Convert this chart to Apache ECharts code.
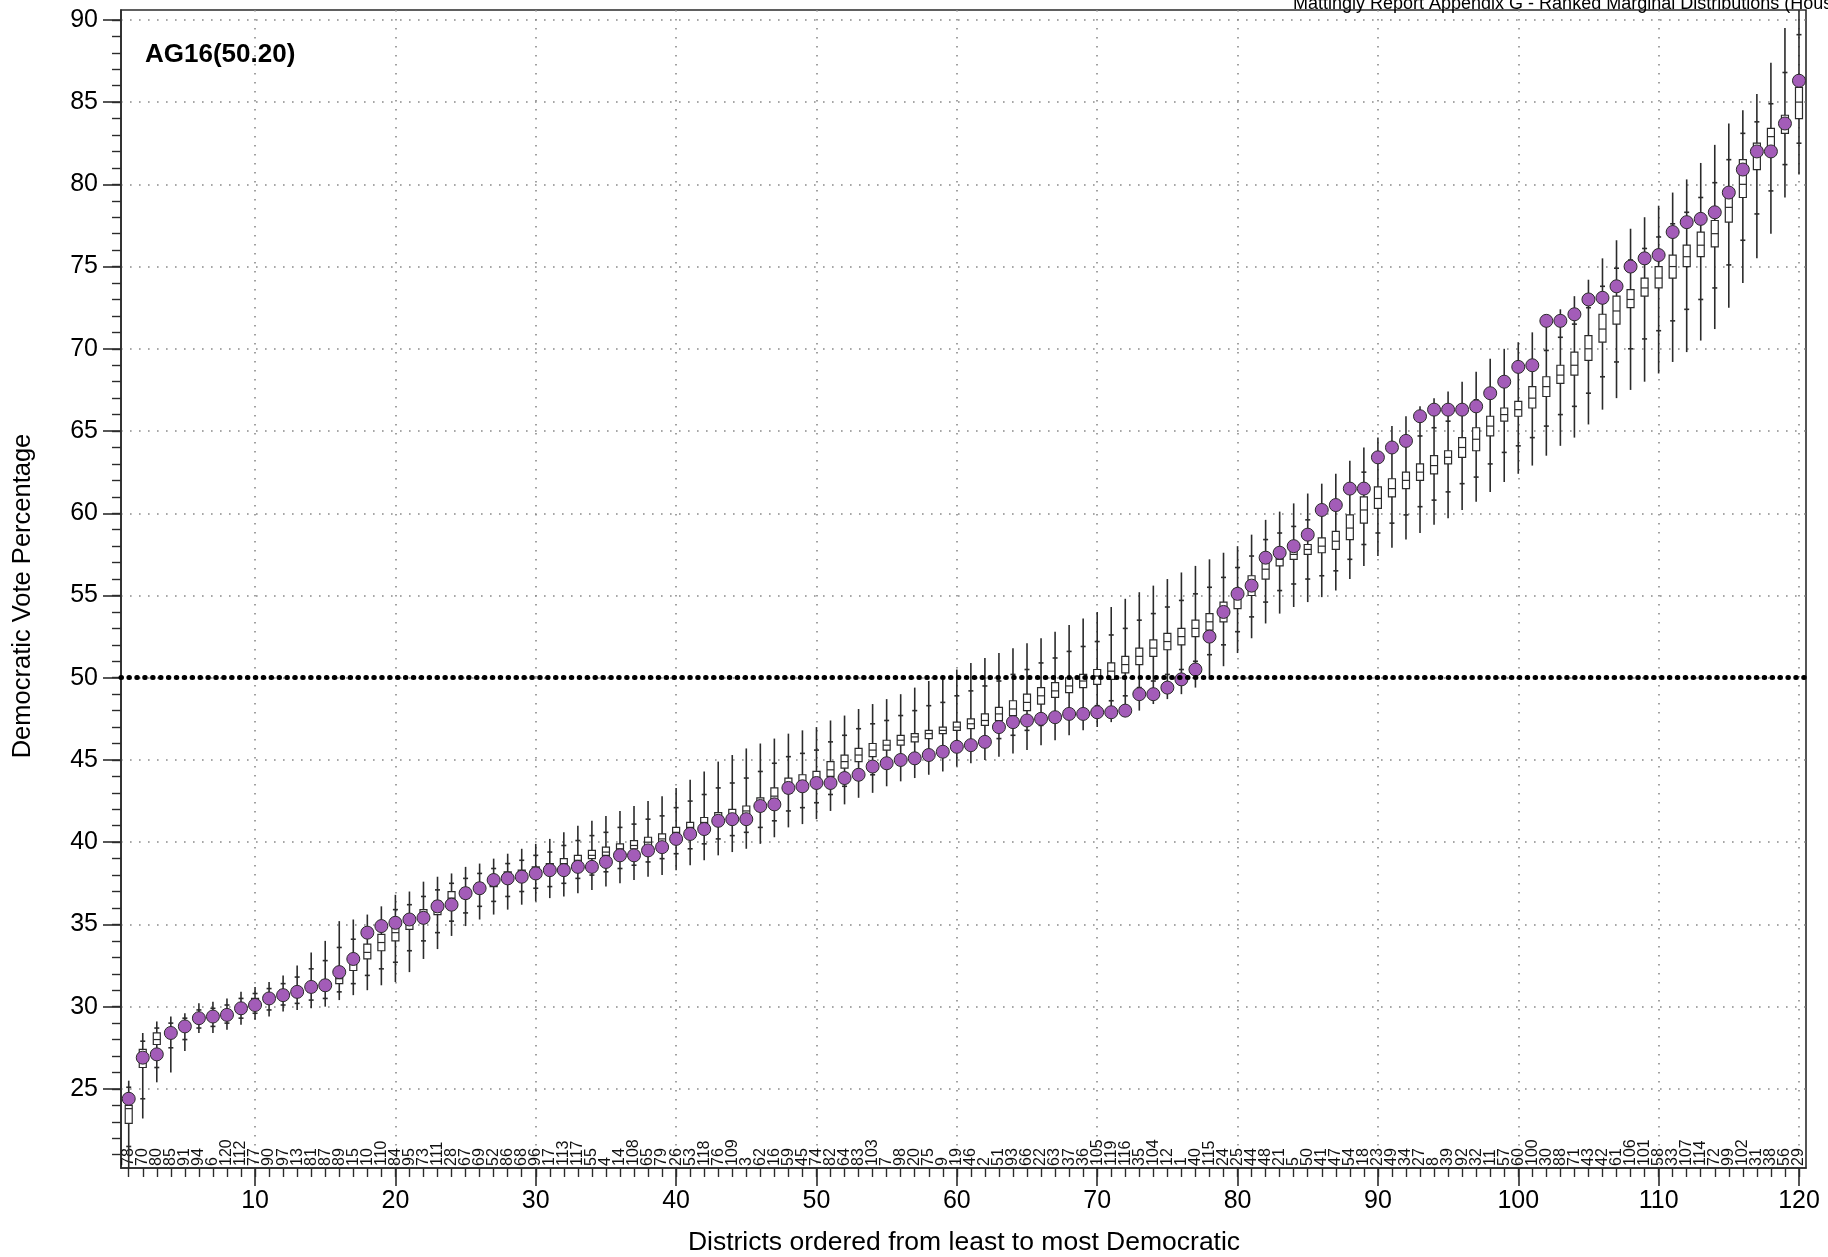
<!DOCTYPE html>
<html lang="en">
<head>
  <meta charset="UTF-8">
  <title>AG16 ranked marginal distributions</title>
  <style>
    html, body { margin: 0; padding: 0; background: #fff; }
    #main { width: 1828px; height: 1257px; }
  </style>
</head>
<body>
<div id="main"></div>
<script type="text/javascript" src="https://cdn.jsdelivr.net/npm/echarts@6.0.0/dist/echarts.min.js"></script>
<script>
// district numbers, ordered from least to most Democratic
var districts = ['78','70','80','85','91','94','6','120','112','77',
  '90','97','13','81','87','89','15','10','110','84',
  '95','73','111','28','67','69','52','86','68','96',
  '17','113','117','55','4','14','108','65','79','26',
  '53','118','76','109','3','62','16','59','45','74',
  '82','64','83','103','7','98','20','75','9','19',
  '46','2','51','93','66','22','63','37','36','105',
  '119','116','35','104','12','1','40','115','24','25',
  '44','48','21','5','50','41','47','54','18','23',
  '49','34','27','8','39','92','32','11','57','60',
  '100','30','88','71','43','42','61','106','101','58',
  '33','107','114','72','99','102','31','38','56','29'];

// enacted plan vote share (purple dots)
var actual = [24.4,26.9,27.1,28.4,28.8,29.3,29.4,29.5,29.9,30.1,
  30.5,30.7,30.9,31.2,31.3,32.1,32.9,34.5,34.9,35.1,
  35.3,35.4,36.1,36.2,36.9,37.2,37.7,37.8,37.9,38.1,
  38.3,38.3,38.5,38.5,38.8,39.2,39.2,39.5,39.7,40.2,
  40.5,40.8,41.3,41.4,41.4,42.2,42.3,43.3,43.4,43.6,
  43.6,43.9,44.1,44.6,44.8,45.0,45.1,45.3,45.5,45.8,
  45.9,46.1,47.0,47.3,47.4,47.5,47.6,47.8,47.8,47.9,
  47.9,48.0,49.0,49.0,49.4,49.9,50.5,52.5,54.0,55.1,
  55.6,57.3,57.6,58.0,58.7,60.2,60.5,61.5,61.5,63.4,
  64.0,64.4,65.9,66.3,66.3,66.3,66.5,67.3,68.0,68.9,
  69.0,71.7,71.7,72.1,73.0,73.1,73.8,75.0,75.5,75.7,
  77.1,77.7,77.9,78.3,79.5,80.9,82.0,82.0,83.7,86.3];

// ensemble distribution per rank
var whiskerLo = [19.5,23.2,25.4,26.0,27.3,28.4,28.4,28.6,28.9,29.2,
  29.4,29.7,29.8,29.9,30.0,30.4,30.7,31.0,31.3,31.5,
  32.1,32.9,33.5,34.3,34.9,35.3,35.6,35.9,36.2,36.4,
  36.6,36.7,36.9,37.1,37.3,37.5,37.7,37.9,38.0,38.3,
  38.6,38.9,39.2,39.4,39.6,39.9,40.3,40.9,41.1,41.4,
  41.9,42.3,42.7,43.0,43.4,43.7,43.9,44.1,44.3,44.6,
  44.8,45.0,45.2,45.4,45.6,45.9,46.2,46.5,46.8,47.0,
  47.3,47.6,48.0,48.4,48.7,49.0,49.4,49.9,50.7,51.5,
  52.4,53.3,53.9,54.3,54.6,54.9,55.3,56.0,56.8,57.4,
  57.9,58.4,58.8,59.3,59.7,60.2,60.7,61.3,61.9,62.4,
  62.9,63.5,64.1,64.6,65.4,66.3,67.0,67.5,68.0,68.5,
  69.2,69.8,70.5,71.2,72.5,74.0,75.5,77.0,79.2,80.6];
var markLo = [21.5,24.4,26.3,27.5,28.0,28.7,28.8,29.0,29.3,29.6,
  29.8,30.1,30.2,30.4,30.5,30.9,31.4,31.9,32.3,32.7,
  33.4,34.0,34.5,35.2,35.7,36.1,36.4,36.7,37.0,37.2,
  37.3,37.5,37.8,38.0,38.2,38.4,38.6,38.8,39.0,39.3,
  39.6,39.9,40.2,40.4,40.6,40.9,41.3,41.9,42.1,42.4,
  42.9,43.4,43.8,44.1,44.5,44.8,45.0,45.2,45.4,45.7,
  45.8,46.0,46.3,46.5,46.8,47.1,47.5,47.8,48.1,48.3,
  48.6,48.9,49.4,49.8,50.2,50.5,51.0,51.4,52.0,52.8,
  53.7,54.6,55.3,55.7,56.0,56.2,56.5,57.2,58.1,58.8,
  59.4,59.9,60.4,60.8,61.3,61.8,62.2,63.0,63.7,64.1,
  64.6,65.3,66.0,66.5,67.3,68.3,69.2,70.0,70.6,71.1,
  71.7,72.4,73.0,73.7,75.1,76.6,78.2,79.6,81.2,82.5];
var q1 = [22.9,26.3,27.7,28.2,28.6,29.1,29.2,29.4,29.7,30.1,
  30.3,30.6,30.7,30.9,31.0,31.4,32.2,32.9,33.4,34.0,
  34.7,35.1,35.6,36.2,36.6,36.9,37.3,37.6,37.8,38.0,
  38.1,38.4,38.7,39.0,39.2,39.4,39.6,39.8,40.0,40.3,
  40.6,40.9,41.2,41.4,41.6,41.9,42.4,43.0,43.2,43.5,
  44.0,44.5,44.9,45.2,45.6,45.9,46.1,46.3,46.6,46.8,
  46.9,47.1,47.4,47.7,48.0,48.4,48.8,49.1,49.4,49.6,
  49.9,50.3,50.8,51.3,51.7,52.0,52.5,52.9,53.4,54.2,
  55.0,56.0,56.8,57.2,57.5,57.6,57.8,58.4,59.4,60.3,
  61.0,61.5,62.0,62.4,63.0,63.4,63.8,64.7,65.6,65.9,
  66.4,67.1,67.9,68.4,69.3,70.4,71.5,72.5,73.2,73.7,
  74.3,75.0,75.6,76.2,77.7,79.2,80.9,82.3,83.1,84.0];
var median = [23.8,26.9,28.0,28.4,28.8,29.3,29.4,29.6,29.9,30.3,
  30.5,30.8,30.9,31.1,31.3,31.7,32.6,33.3,33.9,34.5,
  35.1,35.5,36.0,36.6,36.9,37.2,37.6,37.9,38.0,38.2,
  38.4,38.7,38.9,39.2,39.4,39.6,39.8,40.0,40.2,40.6,
  40.9,41.2,41.5,41.7,41.9,42.3,42.8,43.4,43.6,43.9,
  44.4,44.9,45.3,45.6,45.9,46.2,46.4,46.6,46.8,47.0,
  47.2,47.4,47.8,48.1,48.5,48.9,49.2,49.5,49.8,50.1,
  50.4,50.8,51.3,51.8,52.2,52.5,53.0,53.4,54.0,54.8,
  55.6,56.6,57.2,57.5,57.8,58.0,58.3,59.1,60.2,60.9,
  61.5,62.0,62.5,62.9,63.4,64.0,64.5,65.3,66.0,66.3,
  67.0,67.7,68.4,69.0,70.0,71.2,72.3,73.0,73.7,74.3,
  75.0,75.6,76.3,77.0,78.6,80.0,81.7,82.9,83.6,85.0];
var q3 = [24.0,27.4,28.4,28.6,29.0,29.5,29.6,29.8,30.1,30.5,
  30.7,31.0,31.1,31.3,31.6,32.1,33.0,33.8,34.4,35.0,
  35.5,35.9,36.4,37.0,37.2,37.5,37.9,38.2,38.3,38.5,
  38.7,39.0,39.2,39.5,39.7,39.9,40.1,40.3,40.5,40.9,
  41.2,41.5,41.8,42.0,42.2,42.7,43.3,43.9,44.1,44.3,
  44.9,45.3,45.7,46.0,46.2,46.5,46.6,46.8,47.0,47.3,
  47.5,47.8,48.2,48.6,49.0,49.4,49.7,50.0,50.2,50.5,
  50.9,51.3,51.8,52.3,52.7,53.0,53.5,53.9,54.6,55.4,
  56.2,57.3,57.6,57.9,58.1,58.5,58.9,59.9,61.0,61.6,
  62.1,62.5,63.0,63.5,63.8,64.6,65.2,65.9,66.4,66.8,
  67.7,68.3,69.0,69.8,70.8,72.1,73.2,73.6,74.3,75.0,
  75.7,76.3,77.1,77.8,79.4,81.5,82.5,83.4,84.2,85.9];
var markHi = [25.1,27.9,28.7,29.0,29.3,29.8,29.9,30.1,30.5,30.8,
  31.1,31.4,31.8,32.3,32.8,33.6,34.1,34.7,35.2,35.9,
  36.2,36.7,37.1,37.5,37.8,38.1,38.4,38.7,38.9,39.2,
  39.4,39.8,40.1,40.4,40.6,40.9,41.1,41.4,41.6,42.1,
  42.5,42.9,43.3,43.6,43.9,44.3,44.8,45.2,45.4,45.6,
  46.1,46.5,46.9,47.2,47.4,47.7,48.0,48.3,48.5,48.9,
  49.2,49.5,49.8,50.2,50.5,50.9,51.2,51.6,51.9,52.2,
  52.6,53.0,53.5,53.9,54.3,54.7,55.1,55.5,56.1,56.7,
  57.4,58.4,58.8,59.2,59.6,60.1,60.6,61.5,62.5,63.1,
  63.7,64.2,64.7,65.2,65.6,66.3,66.9,67.6,68.2,68.6,
  69.3,69.9,70.7,71.5,72.5,73.8,74.9,75.4,76.1,76.8,
  77.6,78.3,79.2,80.1,81.5,83.1,83.8,84.9,86.8,89.1];
var whiskerHi = [25.5,28.4,29.1,29.4,29.6,30.2,30.3,30.5,30.9,31.2,
  31.5,31.9,32.5,33.3,34.0,35.2,35.3,35.6,36.1,36.8,
  37.0,37.6,37.9,38.1,38.5,38.7,39.0,39.3,39.6,39.9,
  40.2,40.6,41.0,41.3,41.6,41.9,42.2,42.5,42.8,43.3,
  43.8,44.3,44.9,45.3,45.7,46.0,46.3,46.6,46.8,47.0,
  47.4,47.7,48.1,48.4,48.7,49.0,49.4,49.8,50.1,50.5,
  50.9,51.2,51.5,51.8,52.1,52.4,52.8,53.2,53.6,54.0,
  54.3,54.8,55.2,55.6,56.0,56.4,56.8,57.2,57.6,58.0,
  58.7,59.6,60.1,60.6,61.2,61.8,62.4,63.2,64.0,64.6,
  65.3,65.9,66.5,67.0,67.4,68.0,68.6,69.4,70.0,70.4,
  71.0,71.6,72.4,73.2,74.2,75.5,76.6,77.3,78.0,78.7,
  79.5,80.3,81.3,82.4,83.7,84.5,85.5,87.4,89.5,92.0];

var majorX = [10,20,30,40,50,60,70,80,90,100,110,120];
var majorY = [25,30,35,40,45,50,55,60,65,70,75,80,85,90];

var FONT = "'Liberation Sans', Arial, Helvetica, sans-serif";
var xMin = 0.45, xMax = 120.5, yMin = 20.19, yMax = 90.6;

var ranks = [], oddRanks = [], evenRanks = [], minorY = [];
for (var i = 0; i < districts.length; i++) {
  ranks.push(i + 1);
  ((i + 1) % 2 ? oddRanks : evenRanks).push(i + 1);
}
for (var v = 21; v <= 90; v++) minorY.push(v);

var boxData = [], dotData = [];
for (var i = 0; i < ranks.length; i++) {
  boxData.push([ranks[i], whiskerLo[i], markLo[i], q1[i], median[i], q3[i], markHi[i], whiskerHi[i]]);
  dotData.push([ranks[i], actual[i]]);
}

function renderBox(params, api) {
  var x = api.value(0);
  var p = function (k) { return api.coord([x, api.value(k)]); };
  var lo = p(1), mLo = p(2), b1 = p(3), md = p(4), b3 = p(5), mHi = p(6), hi = p(7);
  var cx = lo[0], bw = 7, mw = 5;
  var ink = { stroke: '#2b2b2b', lineWidth: 1.6 };
  return {
    type: 'group',
    children: [
      { type: 'line', shape: { x1: cx, y1: hi[1], x2: cx, y2: lo[1] }, style: ink },
      { type: 'line', shape: { x1: cx - mw / 2, y1: mHi[1], x2: cx + mw / 2, y2: mHi[1] }, style: ink },
      { type: 'line', shape: { x1: cx - mw / 2, y1: mLo[1], x2: cx + mw / 2, y2: mLo[1] }, style: ink },
      { type: 'rect', shape: { x: cx - bw / 2, y: b3[1], width: bw, height: b1[1] - b3[1] },
        style: { fill: '#fff', stroke: '#2b2b2b', lineWidth: 1.2 } },
      { type: 'line', shape: { x1: cx - bw / 2, y1: md[1], x2: cx + bw / 2, y2: md[1] },
        style: { stroke: '#2b2b2b', lineWidth: 1.2 } }
    ]
  };
}

function sameX(extra) {
  var base = { type: 'value', min: xMin, max: xMax, position: 'bottom', gridIndex: 0,
    axisLine: { show: false }, axisTick: { show: false }, axisLabel: { show: false },
    splitLine: { show: false } };
  return Object.assign(base, extra);
}
function sameY(extra) {
  var base = { type: 'value', min: yMin, max: yMax, position: 'left', gridIndex: 0,
    axisLine: { show: false }, axisTick: { show: false }, axisLabel: { show: false },
    splitLine: { show: false } };
  return Object.assign(base, extra);
}
// district names sit inside the frame, one axis for odd ranks and one for even
function districtAxis(values) {
  return sameX({
    axisLabel: { show: true, inside: true, rotate: 90, margin: 2, customValues: values,
      showMinLabel: true, showMaxLabel: true, hideOverlap: false,
      fontSize: 16, color: '#111', fontFamily: FONT,
      formatter: function (val) { return districts[Math.round(val) - 1] || ''; } }
  });
}

var chart = echarts.init(document.getElementById('main'));
var option = {
  animation: false,
  backgroundColor: '#fff',
  textStyle: { fontFamily: FONT },
  grid: { left: 121, right: 22, top: 10, bottom: 89, show: true,
    borderColor: '#2b2b2b', borderWidth: 1.6, backgroundColor: 'transparent' },
  xAxis: [
    sameX({
      axisLine: { show: true, lineStyle: { color: '#2b2b2b', width: 1.6 } },
      axisTick: { show: true, length: 18, customValues: majorX, lineStyle: { color: '#2b2b2b', width: 1.6 } },
      axisLabel: { show: true, customValues: majorX, margin: 21, fontSize: 25, color: '#000', fontFamily: FONT },
      splitLine: { show: true, lineStyle: { color: '#8a8a8a', width: 1.6, type: [1.6, 7.4] } }
    }),
    sameX({
      axisTick: { show: true, length: 9, customValues: ranks, lineStyle: { color: '#2b2b2b', width: 1.4 } }
    }),
    districtAxis(oddRanks),
    districtAxis(evenRanks)
  ],
  yAxis: [
    sameY({
      axisLine: { show: true, lineStyle: { color: '#2b2b2b', width: 1.6 } },
      axisTick: { show: true, length: 18, customValues: majorY, lineStyle: { color: '#2b2b2b', width: 1.6 } },
      axisLabel: { show: true, customValues: majorY, margin: 23, fontSize: 25, color: '#000', fontFamily: FONT },
      splitLine: { show: true, lineStyle: { color: '#8a8a8a', width: 1.6, type: [1.6, 7.4] } }
    }),
    sameY({
      axisTick: { show: true, length: 9, customValues: minorY, lineStyle: { color: '#2b2b2b', width: 1.4 } }
    })
  ],
  series: [
    {
      name: 'ensemble',
      type: 'custom',
      xAxisIndex: 0,
      yAxisIndex: 0,
      clip: true,
      z: 2,
      renderItem: renderBox,
      encode: { x: 0, y: [1, 7] },
      data: boxData,
      markLine: {
        silent: true,
        symbol: 'none',
        label: { show: false },
        lineStyle: { color: '#000', width: 5, type: [0.5, 7.4], cap: 'round', opacity: 1 },
        data: [{ yAxis: 50 }]
      }
    },
    {
      name: 'AG16',
      type: 'scatter',
      xAxisIndex: 0,
      yAxisIndex: 0,
      z: 4,
      symbol: 'circle',
      symbolSize: 13,
      itemStyle: { color: '#a35cb8', borderColor: '#2b2b2b', borderWidth: 1, opacity: 1 },
      data: dotData
    }
  ],
  graphic: [
    { type: 'text', left: 145, top: 42, z: 10,
      style: { text: 'AG16(50.20)', font: 'bold 26px ' + FONT, fill: '#000' } },
    { type: 'text', x: 1293, y: 13, z: 10,
      style: { text: 'Mattingly Report Appendix G - Ranked Marginal Distributions (House Plan)',
        font: '18px ' + FONT, fill: '#000', verticalAlign: 'bottom' } },
    { type: 'text', x: 23, y: 596, rotation: Math.PI / 2, z: 10,
      style: { text: 'Democratic Vote Percentage', font: '25.5px ' + FONT, fill: '#000',
        align: 'center', verticalAlign: 'middle' } },
    { type: 'text', x: 964, y: 1243, z: 10,
      style: { text: 'Districts ordered from least to most Democratic', font: '26.5px ' + FONT, fill: '#000',
        align: 'center', verticalAlign: 'middle' } }
  ]
};
chart.setOption(option);
</script>
</body>
</html>
